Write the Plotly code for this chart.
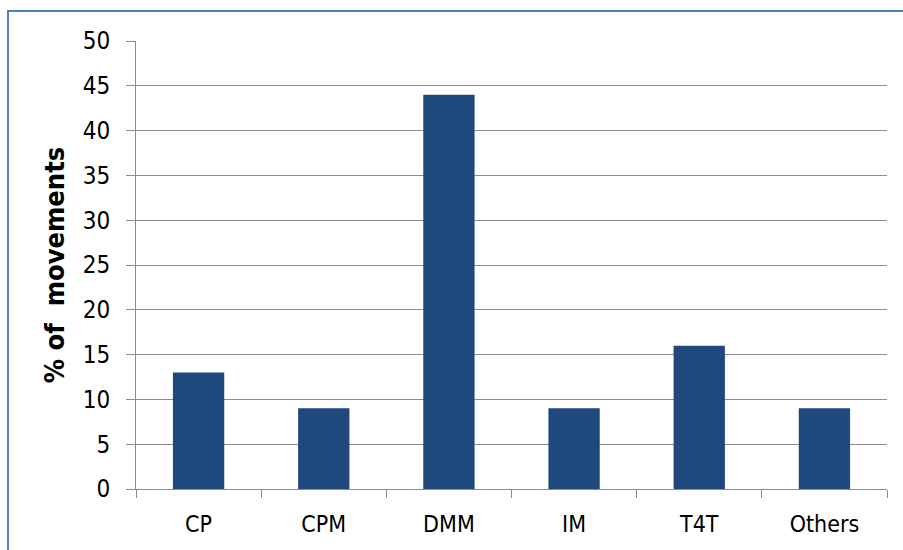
import plotly.graph_objects as go

categories = ["CP", "CPM", "DMM", "IM", "T4T", "Others"]
values = [13, 9, 44, 9, 16, 9]
y_ticks = [0, 5, 10, 15, 20, 25, 30, 35, 40, 45, 50]

FONT = "DejaVu Sans Condensed, DejaVu Sans"
GRID = "#8c8c8c"

fig = go.Figure(
    go.Bar(
        x=categories,
        y=values,
        marker=dict(color="#1f497d", line=dict(width=0)),
        width=0.41,
    )
)

fig.update_layout(
    width=903,
    height=550,
    margin=dict(l=136, r=16, t=41, b=61),
    paper_bgcolor="white",
    plot_bgcolor="white",
    showlegend=False,
    font=dict(family=FONT, size=23, color="black"),
    shapes=[
        # outer chart frame (left and top edges visible)
        dict(
            type="rect", xref="paper", yref="paper",
            x0=(8 - 136) / 751, x1=(915 - 136) / 751,
            y0=(489 - 565) / 448, y1=(489 - 11) / 448,
            line=dict(color="#4f81bd", width=2),
            fillcolor="rgba(0,0,0,0)", layer="below",
        )
    ],
)

fig.update_xaxes(
    type="category",
    showline=True, linecolor=GRID, linewidth=1,
    ticks="outside", ticklen=8, tickcolor=GRID, tickwidth=1,
    tickson="boundaries",
    showgrid=False,
    tickfont=dict(family=FONT, size=23),
    ticklabelstandoff=14,
)

fig.update_yaxes(
    range=[0, 50],
    tickvals=y_ticks,
    showline=True, linecolor=GRID, linewidth=1,
    ticks="outside", ticklen=9, tickcolor=GRID, tickwidth=1,
    showgrid=True, gridcolor=GRID, gridwidth=1,
    zeroline=False,
    tickfont=dict(family=FONT, size=24),
    ticklabelstandoff=11,
    title=dict(
        text="<b>% of  movements</b>",
        font=dict(family=FONT, size=27),
        standoff=10,
    ),
)

fig.write_html("out.html")
